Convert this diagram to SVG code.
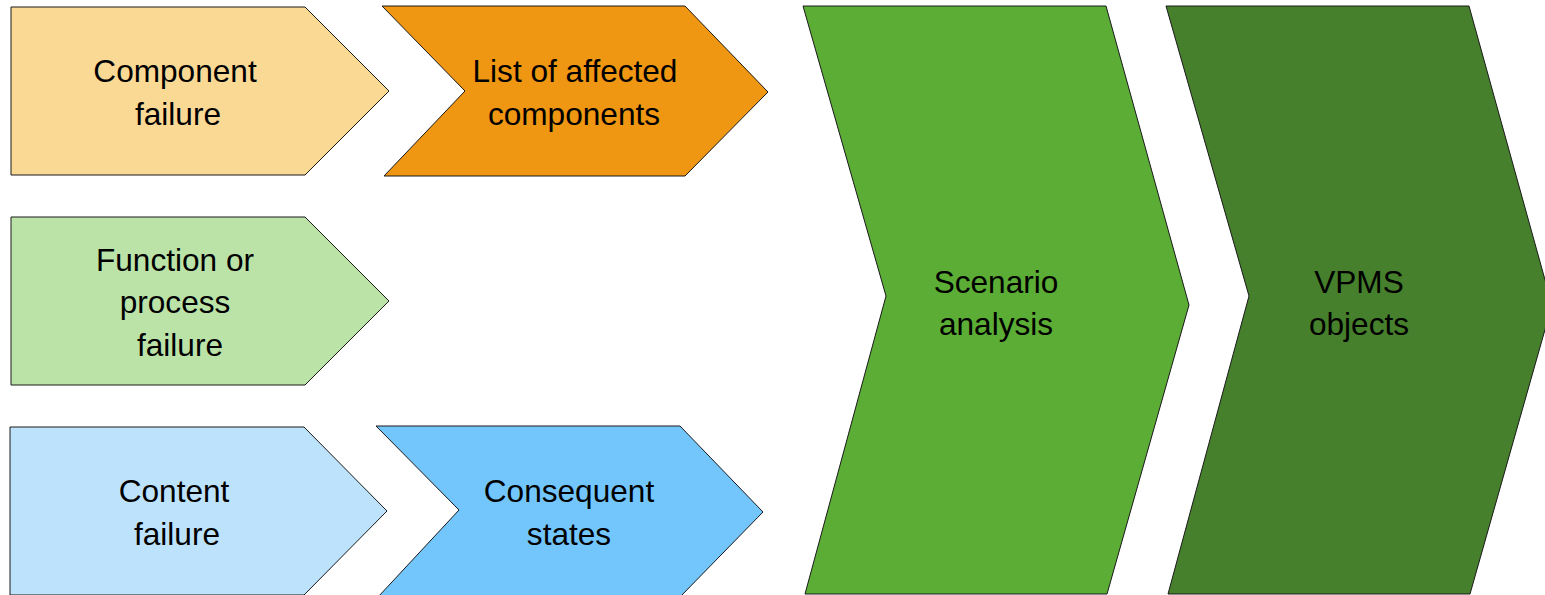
<svg xmlns="http://www.w3.org/2000/svg" width="1545" height="595" viewBox="0 0 1545 595">
  <style>
    .shape { stroke: #1a1a1a; stroke-width: 1; stroke-linejoin: miter; }
    .label { font-family: "Liberation Sans", Arial, sans-serif; font-size: 31.6px; fill: #000; text-anchor: middle; }
  </style>
  <rect width="1545" height="595" fill="#ffffff"/>

  <!-- row 1 -->
  <g id="component-failure">
    <polygon class="shape" fill="#FAD995" points="11,7 305,7 389,91 305,175 11,175"/>
    <text class="label" x="175" y="82">Component</text>
    <text class="label" x="178" y="125">failure</text>
  </g>
  <g id="affected-components">
    <polygon class="shape" fill="#EF9612" points="382,6 685,6 768,92 685,176 384,176 465,91"/>
    <text class="label" x="575" y="82">List of affected</text>
    <text class="label" x="574" y="125">components</text>
  </g>

  <!-- row 2 -->
  <g id="function-failure">
    <polygon class="shape" fill="#BBE3A8" points="11,217 305,217 389,301 305,385 11,385"/>
    <text class="label" x="175" y="271">Function or</text>
    <text class="label" x="175" y="313">process</text>
    <text class="label" x="180" y="356">failure</text>
  </g>

  <!-- row 3 -->
  <g id="content-failure">
    <polygon class="shape" fill="#BDE3FC" points="10,427 304,427 387,511 304,595 10,595"/>
    <text class="label" x="174" y="502">Content</text>
    <text class="label" x="177" y="545">failure</text>
  </g>
  <g id="consequent-states">
    <polygon class="shape" fill="#72C6FC" points="376,426 680,426 763,512 680,597 378,597 459,510"/>
    <text class="label" x="569" y="502">Consequent</text>
    <text class="label" x="569" y="545">states</text>
  </g>

  <!-- large chevrons -->
  <g id="scenario-analysis">
    <polygon class="shape" fill="#5BAD35" points="803,6 1106,6 1189,305 1107,594 805,594 886,296"/>
    <text class="label" x="996" y="293">Scenario</text>
    <text class="label" x="996" y="335">analysis</text>
  </g>
  <g id="vpms-objects">
    <polygon class="shape" fill="#46802C" points="1166,6 1469,6 1552,305 1470,594 1168,594 1249,296"/>
    <text class="label" x="1359" y="293">VPMS</text>
    <text class="label" x="1359" y="335">objects</text>
  </g>
</svg>
